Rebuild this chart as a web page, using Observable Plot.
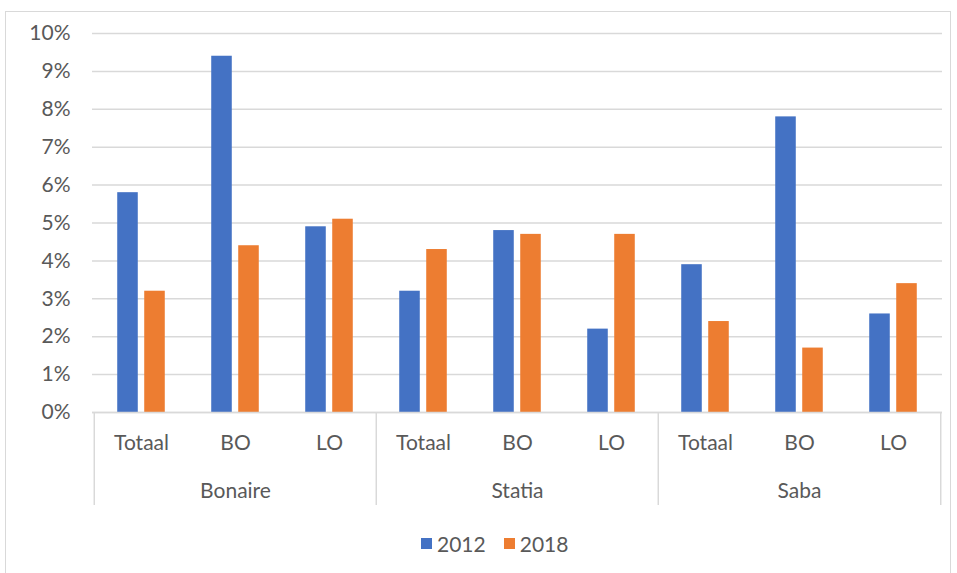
<!DOCTYPE html>
<html><head><meta charset="utf-8">
<script src="https://cdn.jsdelivr.net/npm/d3@7"></script>
<script src="https://cdn.jsdelivr.net/npm/@observablehq/plot@0.6"></script>
<style>
body{margin:0;background:#fff;width:957px;height:573px;overflow:hidden;position:relative;font-family:Lato,"Open Sans",sans-serif}
#frame{position:absolute;left:5px;top:11px;width:946px;height:620px;border:1.5px solid #d9d9d9;box-sizing:border-box}
#chart{position:absolute;left:0;top:0}
#legend{position:absolute;left:421px;top:531px;display:flex;align-items:center;font-size:21px;color:#595959}
.sw{display:inline-block;width:11px;height:11px;margin-right:5px}
.item{display:flex;align-items:center;margin-right:18px}
</style>
</head><body>
<div id="frame"></div>
<div id="chart"></div>
<div id="legend"></div>
<script>
const islands = ["Bonaire", "Statia", "Saba"];
const levels = ["Totaal", "BO", "LO"];
const years = ["2012", "2018"];
const colors = ["#4472C4", "#ED7D31"];
const values2012 = [5.8, 9.4, 4.9, 3.2, 4.8, 2.2, 3.9, 7.8, 2.6];
const values2018 = [3.2, 4.4, 5.1, 4.3, 4.7, 4.7, 2.4, 1.7, 3.4];
const yTicks = [0, 1, 2, 3, 4, 5, 6, 7, 8, 9, 10];

const rows = [];
islands.forEach((isl, i) => levels.forEach((lv, j) => {
  const k = i * levels.length + j;
  rows.push({key: isl + "|" + lv, island: isl, level: lv, v2012: values2012[k], v2018: values2018[k]});
}));
const keys = rows.map(d => d.key);
const groupStarts = islands.map(d => d + "|" + levels[0]);
const groupEnd = [islands[islands.length - 1] + "|" + levels[levels.length - 1]];

const W = 957, ML = 92, MR = 15;
const bw = (W - ML - MR) / keys.length;
const barW = 21, gap = 6;
const side = (bw - 2 * barW - gap) / 2;
const grid = "#d9d9d9";

const chart = Plot.plot({
  width: W, height: 520,
  marginLeft: ML, marginRight: MR, marginTop: 33, marginBottom: 108,
  style: {fontFamily: "Lato, 'Open Sans', sans-serif", fontSize: "21px", color: "#595959", background: "transparent", overflow: "visible"},
  x: {domain: keys, padding: 0, axis: null, label: null},
  y: {domain: [0, 10], axis: null, label: null},
  marks: [
    Plot.gridY(yTicks, {stroke: grid, strokeOpacity: 1, strokeWidth: 1.5}),
    Plot.axisY(yTicks, {tickSize: 0, tickPadding: 22, tickFormat: d => d + "%", label: null}),
    Plot.barY(rows, {x: "key", y: "v2012", fill: colors[0], insetLeft: side, insetRight: side + barW + gap}),
    Plot.barY(rows, {x: "key", y: "v2018", fill: colors[1], insetLeft: side + barW + gap, insetRight: side}),
    Plot.ruleY([0], {stroke: grid, strokeWidth: 1.5}),
    Plot.axisX(keys, {tickSize: 0, tickPadding: 23, tickFormat: k => k.split("|")[1], label: null}),
    Plot.axisX(groupStarts, {tickSize: 93, dx: -bw / 2, tickFormat: () => "", stroke: grid, strokeWidth: 1.5, label: null}),
    Plot.axisX(groupEnd, {tickSize: 93, dx: bw / 2, tickFormat: () => "", stroke: grid, strokeWidth: 1.5, label: null}),
    Plot.text(islands, {x: d => d + "|" + levels[1], text: d => d, frameAnchor: "bottom", dy: 85, fill: "#595959"})
  ]
});
document.getElementById("chart").appendChild(chart);

const legend = document.getElementById("legend");
years.forEach((y, i) => {
  const it = document.createElement("span");
  it.className = "item";
  it.innerHTML = `<span class="sw" style="background:${colors[i]}"></span><span>${y}</span>`;
  legend.appendChild(it);
});
</script>
</body></html>
